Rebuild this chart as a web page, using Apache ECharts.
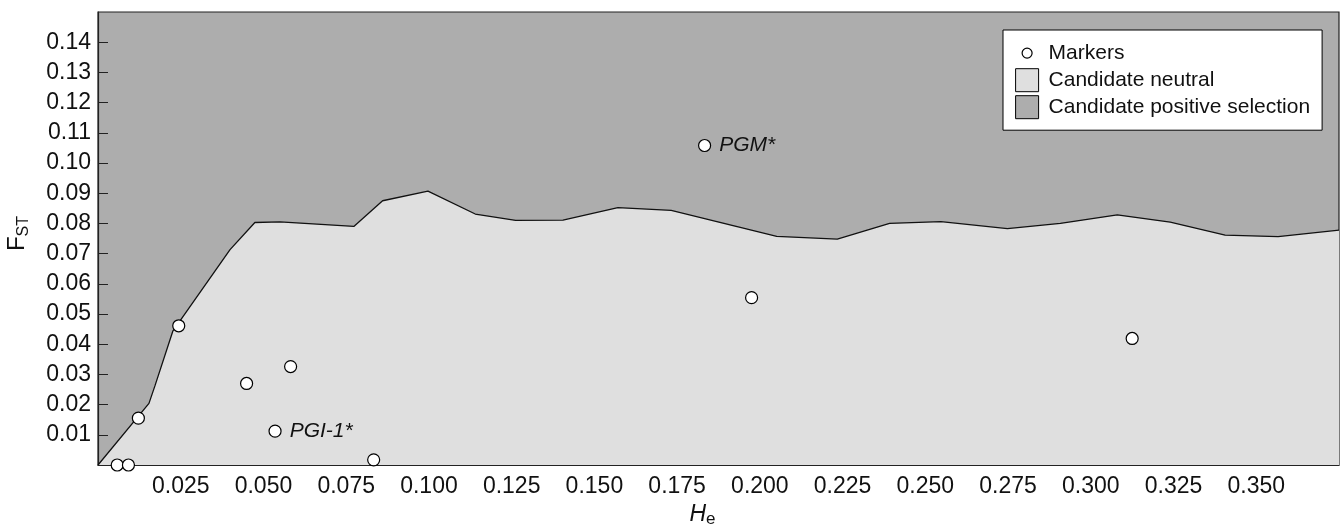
<!DOCTYPE html>
<html>
<head>
<meta charset="utf-8">
<script src="https://cdn.jsdelivr.net/npm/echarts@6/dist/echarts.min.js"></script>
<style>
html,body{margin:0;padding:0;background:#fff;}
#chart{width:1343px;height:525px;}
</style>
</head>
<body>
<div id="chart"></div>
<script>
// Marker loci: expected heterozygosity (He) and FST
const markerHe  = [0.0058, 0.0092, 0.0122, 0.0244, 0.0449, 0.0535, 0.0582, 0.0833, 0.1833, 0.1975, 0.3125];
const markerFst = [0.0000, 0.0000, 0.0155, 0.0461, 0.0270, 0.0112, 0.0326, 0.0017, 0.1058, 0.0554, 0.0419];
const markerNames = ['', '', '', '', '', 'PGI-1*', '', '', 'PGM*', '', ''];

// Upper boundary of the neutral envelope
const boundaryHe  = [0, 0.0154, 0.0172, 0.0226, 0.0399, 0.0474, 0.0550, 0.0773, 0.0860, 0.0997, 0.1140, 0.1262, 0.1405, 0.1571, 0.1732, 0.2051, 0.2234, 0.2392, 0.2547, 0.2748, 0.2908, 0.3080, 0.3240, 0.3406, 0.3566, 0.3750];
const boundaryFst = [0, 0.0204, 0.0262, 0.0443, 0.0713, 0.0803, 0.0805, 0.0790, 0.0875, 0.0907, 0.0831, 0.0810, 0.0811, 0.0852, 0.0843, 0.0757, 0.0748, 0.0800, 0.0806, 0.0783, 0.0800, 0.0828, 0.0804, 0.0761, 0.0756, 0.0778];

const legendNames = ['Markers', 'Candidate neutral', 'Candidate positive selection'];
const xRange = [0, 0.375], xStep = 0.025;
const yRange = [0, 0.15], yStep = 0.01;

const FONT = "'Liberation Sans', Arial, Helvetica, sans-serif";
const chart = echarts.init(document.getElementById('chart'));

const markerData = markerHe.map((h, i) => {
  const d = { value: [h, markerFst[i]], name: markerNames[i] };
  if (markerNames[i]) {
    d.label = { show: true, formatter: markerNames[i], position: 'right', distance: 8,
      fontStyle: 'italic', fontSize: 21, fontFamily: FONT, color: '#111' };
  }
  return d;
});
const boundaryData = boundaryHe.map((h, i) => [h, boundaryFst[i]]);

chart.setOption({
  animation: false,
  textStyle: { fontFamily: FONT },
  grid: { left: 98, right: 4, top: 12, bottom: 60, show: true, containLabel: false, outerBoundsMode: 'none',
          backgroundColor: '#adadad', borderColor: '#222', borderWidth: 1.2 },
  legend: {
    orient: 'vertical', left: 1003, top: 30,
    padding: [11, 12, 11, 12], itemGap: 3, itemWidth: 23, itemHeight: 23,
    backgroundColor: '#fff', borderColor: '#000', borderWidth: 1, borderRadius: 0,
    selectedMode: false,
    textStyle: { fontSize: 21, fontFamily: FONT, color: '#111', padding: [0, 0, 0, 5] },
    data: [
      { name: legendNames[0], icon: 'path://M0,0M23,23M6.5,11.5A5,5 0 1,1 16.5,11.5A5,5 0 1,1 6.5,11.5Z',
        itemStyle: { color: '#fff', borderColor: '#000', borderWidth: 1.2 } },
      { name: legendNames[1], icon: 'rect', itemStyle: { color: '#dfdfdf', borderColor: '#000', borderWidth: 1 } },
      { name: legendNames[2], icon: 'rect', itemStyle: { color: '#adadad', borderColor: '#000', borderWidth: 1 } }
    ]
  },
  xAxis: {
    type: 'value', min: xRange[0], max: xRange[1], interval: xStep,
    name: '{i|H}{s|e}', nameLocation: 'middle', nameGap: 29,
    nameTextStyle: { padding: [0, 32, 0, 0],
      rich: { i: { fontStyle: 'italic', fontSize: 23, lineHeight: 26, color: '#111' },
              s: { fontSize: 17, lineHeight: 17, verticalAlign: 'bottom', color: '#111' } } },
    axisLine: { show: true, lineStyle: { color: '#222', width: 1.2 } },
    axisTick: { show: true, inside: true, length: 6, lineStyle: { color: '#222' } },
    axisLabel: { fontSize: 23, color: '#111', margin: 10, showMinLabel: false, showMaxLabel: false,
                 formatter: v => v.toFixed(3) },
    splitLine: { show: false }
  },
  yAxis: {
    type: 'value', min: yRange[0], max: yRange[1], interval: yStep,
    name: '{f|F}{s|ST}', nameLocation: 'middle', nameGap: 66, nameRotate: 90,
    nameTextStyle: { padding: [0, 0, 0, 10],
      rich: { f: { fontSize: 24, lineHeight: 30, color: '#111' },
              s: { fontSize: 16, lineHeight: 14, verticalAlign: 'bottom', color: '#111' } } },
    axisLine: { show: true, lineStyle: { color: '#222', width: 1.2 } },
    axisTick: { show: true, inside: true, length: 10, lineStyle: { color: '#222' } },
    axisLabel: { fontSize: 23, color: '#111', margin: 7, showMinLabel: false, showMaxLabel: false,
                 formatter: v => v.toFixed(2) },
    splitLine: { show: false }
  },
  series: [
    { name: legendNames[2], type: 'line', data: [], itemStyle: { color: '#adadad' } },
    { name: legendNames[1], type: 'line', data: boundaryData, showSymbol: false, symbol: 'none',
      lineStyle: { color: '#111', width: 1.3 }, itemStyle: { color: '#dfdfdf' },
      areaStyle: { color: '#dfdfdf', opacity: 1, origin: 'start' }, z: 2 },
    { name: legendNames[0], type: 'scatter', data: markerData, symbol: 'circle', symbolSize: 12,
      clip: false, itemStyle: { color: '#fff', borderColor: '#000', borderWidth: 1.2, opacity: 1 }, z: 5 }
  ]
});
</script>
</body>
</html>
